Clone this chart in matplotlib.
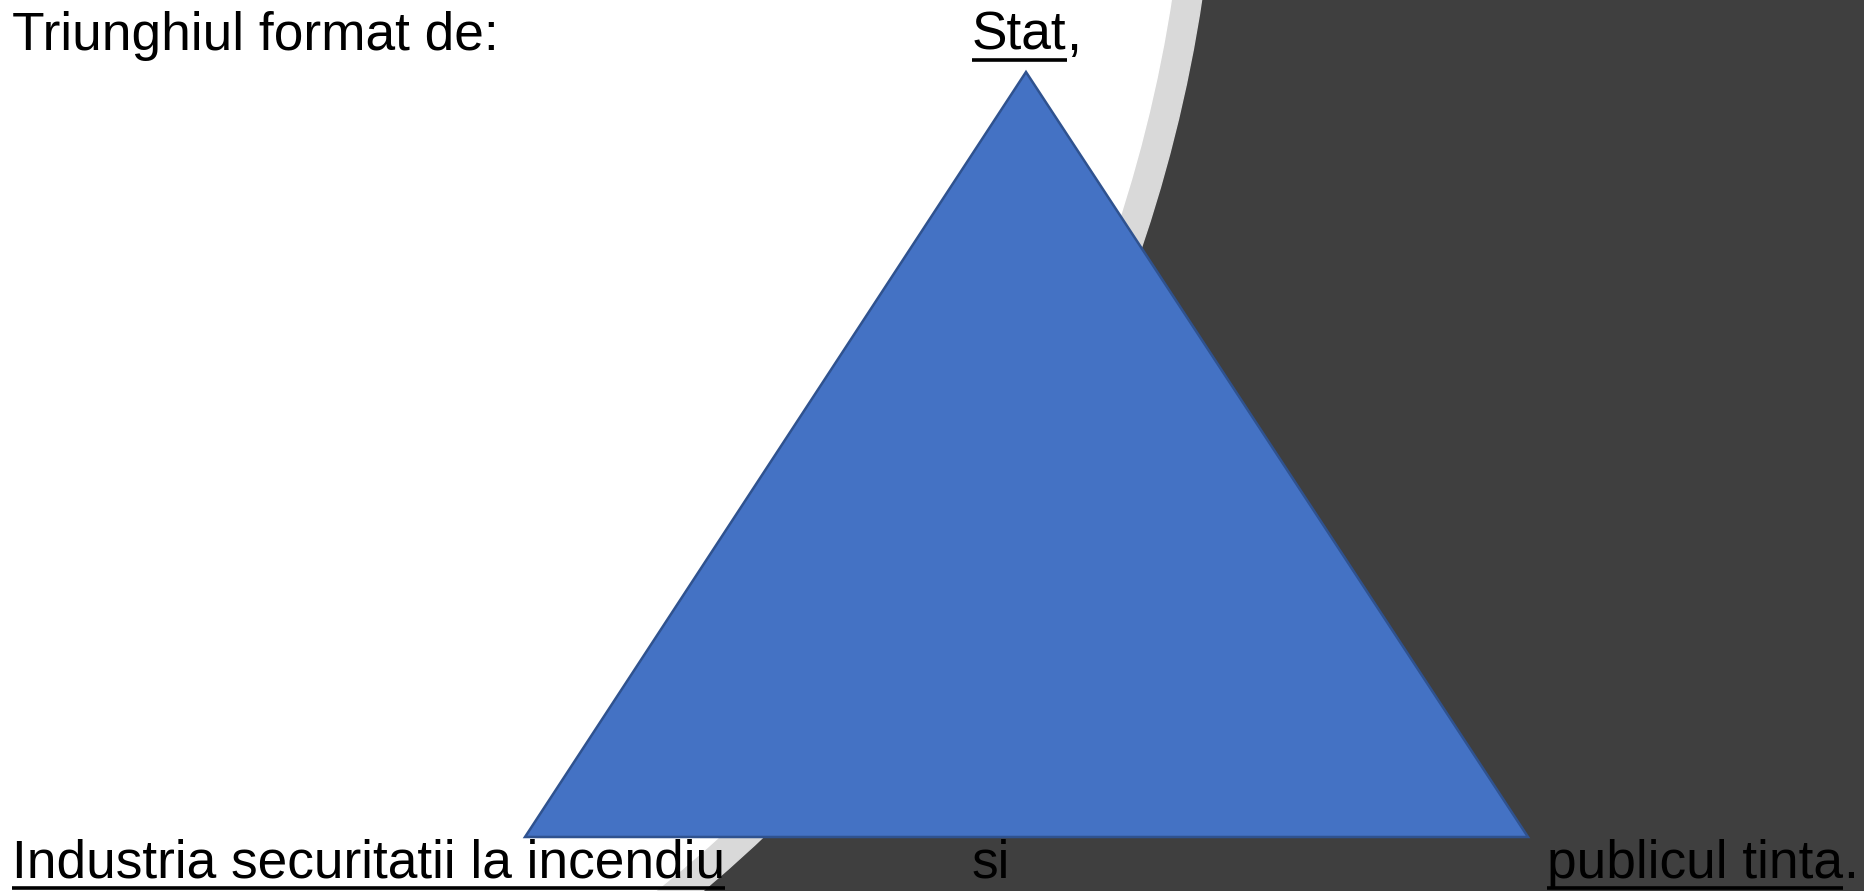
import matplotlib
matplotlib.use("Agg")
import matplotlib.pyplot as plt
from matplotlib.patches import Rectangle, Circle, Polygon

plt.rcParams["font.family"] = ["Liberation Sans", "DejaVu Sans"]

W, H = 1865, 891

# slide text: (text, x, baseline y, underlined)
top_parts = [("Triunghiul format de:", 12, 50, False),
             ("Stat", 972, 50, True),
             (",", None, 50, False)]
bottom_parts = [("Industria securitatii la incendiu", 12, 878, True),
                ("si", 971, 878, False),
                ("publicul tinta", 1547, 878, True),
                (".", None, 878, False)]

# triangle corners (apex, base left, base right)
tri_x = [1026, 525, 1528]
tri_y = [72, 837, 837]

# background arc (theme decoration)
arc_center = (-231, -217)
arc_outer = 1449
arc_inner = 1419

fig = plt.figure(figsize=(W / 100, H / 100), dpi=100)
ax = fig.add_axes([0, 0, 1, 1])
ax.set_xlim(0, W)
ax.set_ylim(H, 0)
ax.axis("off")

ax.add_patch(Rectangle((0, 0), W, H, color="#3f3f3f", zorder=0))
ax.add_patch(Circle(arc_center, arc_outer, color="#d9d9d9", zorder=1))
ax.add_patch(Circle(arc_center, arc_inner, color="white", zorder=2))

ax.add_patch(Polygon(list(zip(tri_x, tri_y)), closed=True, facecolor="#4472c4",
                     edgecolor="#2f528f", linewidth=1.8, zorder=3))

fig.canvas.draw()
renderer = fig.canvas.get_renderer()
inv = ax.transData.inverted()


def draw_parts(parts):
    prev_right = None
    for text, x, y, underline in parts:
        if x is None:
            x = prev_right
        t = ax.text(x, y, text, fontsize=38.3, color="black", va="baseline",
                    ha="left", zorder=5)
        bb = t.get_window_extent(renderer)
        (x0, _), (x1, _) = inv.transform([(bb.x0, bb.y0), (bb.x1, bb.y1)])
        prev_right = x1
        if underline:
            ax.plot([x0, x1], [y + 9.5, y + 9.5], color="black", lw=2.6,
                    solid_capstyle="butt", zorder=5)


draw_parts(top_parts)
draw_parts(bottom_parts)

fig.savefig("out.png", dpi=100)
